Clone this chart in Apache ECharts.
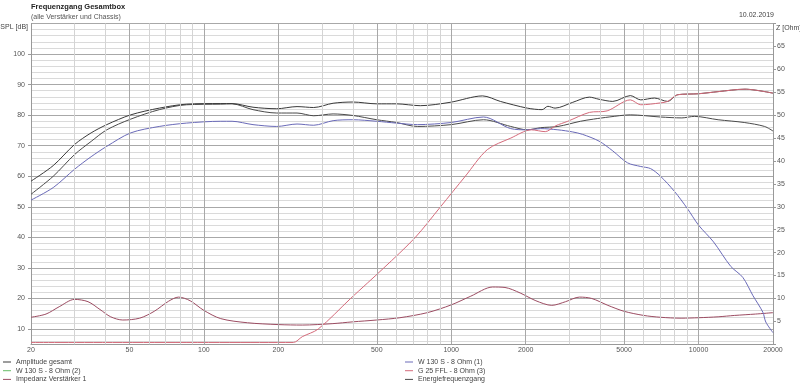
<!DOCTYPE html>
<html>
<head>
<meta charset="utf-8">
<script src="https://cdn.jsdelivr.net/npm/echarts@6/dist/echarts.min.js"></script>
<style>html,body{margin:0;padding:0;background:#fff}#c{width:800px;height:386px}</style>
</head>
<body>
<div id="c"></div>
<script>
// ---- data ----
const freqAmp = [20, 24.6, 30, 35, 40.5, 50.6, 66, 85, 117, 130, 158, 197, 238, 278, 333, 400, 500, 600, 750, 990, 1340, 1580, 2030, 2330, 2460, 2630, 3100, 3620, 3960, 4500, 5300, 5840, 6640, 7490, 8250, 9960, 12000, 15400, 20000];
const dbAmp = [58.4, 63.5, 70.4, 74.2, 76.9, 80.1, 82.3, 83.6, 83.8, 83.8, 82.6, 82.1, 82.8, 82.5, 83.9, 84.3, 83.7, 83.7, 83.1, 84.2, 86.3, 84.5, 82.3, 81.8, 82.9, 82.3, 84.2, 85.9, 85.2, 84.5, 86.4, 85.0, 85.6, 84.5, 86.7, 87.0, 87.7, 88.5, 87.2];

const freqEnergy = [20, 24.6, 30, 35, 40.5, 50.6, 66, 85, 117, 130, 158, 197, 238, 278, 333, 400, 500, 600, 730, 1000, 1350, 1740, 2030, 2300, 2700, 3330, 3760, 4350, 5300, 7000, 8560, 9620, 12000, 15300, 18500, 20000];
const dbEnergy = [54.1, 60.0, 67.1, 71.4, 75.2, 78.7, 81.8, 83.4, 83.6, 83.7, 81.8, 80.7, 80.7, 79.8, 80.4, 79.9, 78.5, 77.6, 76.3, 76.9, 78.5, 76.3, 75.2, 75.9, 76.3, 78.0, 78.7, 79.4, 80.1, 79.4, 79.1, 79.6, 78.5, 77.6, 76.3, 74.8];

const freqWoofer1 = [20, 24.6, 30, 35, 40.5, 50.6, 66, 85, 117, 130, 158, 197, 238, 278, 333, 400, 500, 600, 730, 1000, 1350, 1740, 2030, 2300, 2700, 3100, 3400, 3960, 4500, 5160, 5840, 6400, 7000, 8000, 9000, 10000, 11500, 13500, 15100, 16600, 18200, 18700, 20000];
const dbWoofer1 = [52.2, 56.3, 62.3, 66.4, 69.8, 74.2, 76.3, 77.4, 78.0, 78.0, 76.9, 76.3, 77.1, 76.7, 78.2, 78.5, 78.0, 77.4, 76.9, 77.6, 79.4, 75.6, 75.2, 75.6, 75.2, 74.5, 73.7, 71.5, 68.3, 64.4, 63.2, 62.5, 60.1, 55.0, 49.5, 44.0, 38.5, 30.5, 26.9, 20.9, 15.5, 12.3, 8.8];

const freqWoofer2 = [];
const dbWoofer2 = [];

const freqTweeter = [20, 230, 250, 290, 392, 534, 716, 905, 1140, 1399, 1742, 2110, 2400, 2640, 2960, 3620, 4270, 5300, 5840, 7000, 7500, 8250, 9960, 12000, 15400, 20000];
const dbTweeter = [5.6, 5.6, 7.5, 10, 20, 30, 40, 50, 60, 68.7, 72.5, 75.2, 74.6, 76.5, 78.0, 80.9, 81.4, 85.0, 83.4, 84.0, 84.5, 86.7, 87.0, 87.7, 88.5, 87.2];

const freqImp = [20, 23, 26, 30, 34, 38, 42, 47, 55, 63, 72, 79, 88, 100, 117, 150, 200, 250, 330, 400, 500, 620, 800, 1000, 1200, 1470, 1650, 1900, 2200, 2550, 2900, 3300, 3700, 4300, 5000, 6000, 7000, 8500, 10000, 12000, 14000, 17000, 20000];
const ohmImp = [5.9, 6.6, 8.2, 9.8, 9.3, 7.6, 6.0, 5.3, 5.7, 7.2, 9.4, 10.3, 9.5, 7.4, 5.6, 4.7, 4.3, 4.2, 4.5, 4.9, 5.3, 5.8, 6.9, 8.6, 10.5, 12.5, 12.4, 11.2, 9.5, 8.5, 9.3, 10.3, 10.0, 8.5, 7.2, 6.3, 5.9, 5.7, 5.8, 6.0, 6.3, 6.6, 6.9];

// tick labels / grid positions
const freqLabels = [20, 50, 100, 200, 500, 1000, 2000, 5000, 10000, 20000];
const freqGridMajor = [50, 100, 200, 500, 1000, 2000, 5000, 10000];
const freqGridMinor = [30, 40, 60, 70, 80, 90, 300, 400, 600, 700, 800, 900, 3000, 4000, 6000, 7000, 8000, 9000];
const splLabels = [10, 20, 30, 40, 50, 60, 70, 80, 90, 100];

const FONT = "'Liberation Sans',Arial,sans-serif";
const pairs = (xs, ys) => xs.map((x, i) => [x, ys[i]]);

const chart = echarts.init(document.getElementById('c'), null, {renderer: 'canvas'});

const gridLines = [];
freqGridMinor.forEach(f => gridLines.push({xAxis: f, lineStyle: {color: '#d4d4d4', width: 1, type: 'solid'}}));
freqGridMajor.forEach(f => gridLines.push({xAxis: f, lineStyle: {color: '#a8a8a8', width: 1, type: 'solid'}}));

const T = 'rgba(0,0,0,0)', L = '#dadada', D = '#a8a8a8';

function lineSeries(name, xs, ys, color, yIdx) {
  return {
    name, type: 'line', xAxisIndex: 0, yAxisIndex: yIdx,
    data: pairs(xs, ys), showSymbol: false, symbol: 'none',
    smooth: 0.3, lineStyle: {color, width: 1}, itemStyle: {color},
    emphasis: {disabled: true}, silent: true, z: 3
  };
}

const legendCommon = {
  orient: 'vertical', top: 358, padding: 0, itemGap: 0.7, itemWidth: 8, itemHeight: 1,
  icon: 'rect', selectedMode: false,
  textStyle: {fontSize: 7, color: '#444', fontFamily: FONT, lineHeight: 8}
};

chart.setOption({
  animation: false,
  backgroundColor: '#fff',
  textStyle: {fontFamily: FONT},
  title: [
    {text: 'Frequenzgang Gesamtbox', subtext: '(alle Verstärker und Chassis)', left: 31, top: 2.5, padding: 0, itemGap: 3.5,
     textStyle: {fontSize: 7.5, fontWeight: 'bold', color: '#222', fontFamily: FONT},
     subtextStyle: {fontSize: 7, color: '#555', fontFamily: FONT}},
    {text: '10.02.2019', right: 26, top: 12, padding: 0,
     textStyle: {fontSize: 7, fontWeight: 'normal', color: '#444', fontFamily: FONT}}
  ],
  legend: [
    Object.assign({data: ['Amplitude gesamt', 'W 130 S - 8 Ohm (2)', 'Impedanz Verstärker 1'], left: 3}, legendCommon),
    Object.assign({data: ['W 130 S - 8 Ohm (1)', 'G 25 FFL - 8 Ohm (3)', 'Energiefrequenzgang'], left: 405}, legendCommon)
  ],
  grid: {left: 31, right: 27, top: 23.5, bottom: 41.7, containLabel: false, outerBoundsMode: 'none'},
  xAxis: {
    type: 'log', logBase: 10, min: 20, max: 20000,
    axisLine: {show: true, lineStyle: {color: '#999'}},
    axisTick: {show: false},
    splitLine: {show: false}, minorSplitLine: {show: false},
    axisLabel: {customValues: freqLabels, formatter: v => String(Math.round(v)), fontSize: 7, color: '#555', margin: 2, fontFamily: FONT}
  },
  yAxis: [
    { // dB data axis with grid
      type: 'value', min: 5, max: 110, interval: 1, position: 'left',
      axisLine: {show: false}, axisTick: {show: false}, axisLabel: {show: false},
      splitLine: {show: true, lineStyle: {color: [T, L, T, L, T, D, T, L, T, L], width: 1}}
    },
    { // impedance axis
      type: 'value', min: 0, max: 70, interval: 5, position: 'right',
      name: 'Z [Ohm]', nameLocation: 'end', nameGap: -4.5,
      nameTextStyle: {align: 'left', verticalAlign: 'middle', fontSize: 7, color: '#444', padding: [0, 0, 0, 3], fontFamily: FONT},
      axisLine: {show: true, lineStyle: {color: '#999'}},
      axisTick: {show: true, length: 3, inside: false, lineStyle: {color: '#999'}},
      axisLabel: {fontSize: 7, color: '#555', margin: 4, fontFamily: FONT, formatter: v => (v === 0 || v === 70) ? '' : String(v)},
      splitLine: {show: false}
    },
    { // dB labels
      type: 'value', min: 5, max: 110, position: 'left',
      name: 'SPL [dB]', nameLocation: 'end', nameGap: -3.5,
      nameTextStyle: {align: 'right', verticalAlign: 'middle', fontSize: 7, color: '#444', padding: [0, 3, 0, 0], fontFamily: FONT},
      axisLine: {show: true, lineStyle: {color: '#999'}},
      axisTick: {show: true, length: 3, customValues: splLabels, lineStyle: {color: '#999'}},
      axisLabel: {customValues: splLabels, fontSize: 7, color: '#555', margin: 6, fontFamily: FONT},
      splitLine: {show: false}
    }
  ],
  series: [
    {name: '_grid', type: 'line', data: [], z: 1, silent: true,
     markLine: {silent: true, symbol: 'none', label: {show: false}, animation: false, data: gridLines}},
    lineSeries('Impedanz Verstärker 1', freqImp, ohmImp, '#9c4c62', 1),
    lineSeries('Energiefrequenzgang', freqEnergy, dbEnergy, '#4a4a4a', 0),
    lineSeries('W 130 S - 8 Ohm (2)', freqWoofer2, dbWoofer2, '#66bb66', 0),
    lineSeries('W 130 S - 8 Ohm (1)', freqWoofer1, dbWoofer1, '#6a6ab8', 0),
    lineSeries('Amplitude gesamt', freqAmp, dbAmp, '#3a3a3a', 0),
    lineSeries('G 25 FFL - 8 Ohm (3)', freqTweeter, dbTweeter, '#d46a7a', 0)
  ]
});
</script>
</body>
</html>
